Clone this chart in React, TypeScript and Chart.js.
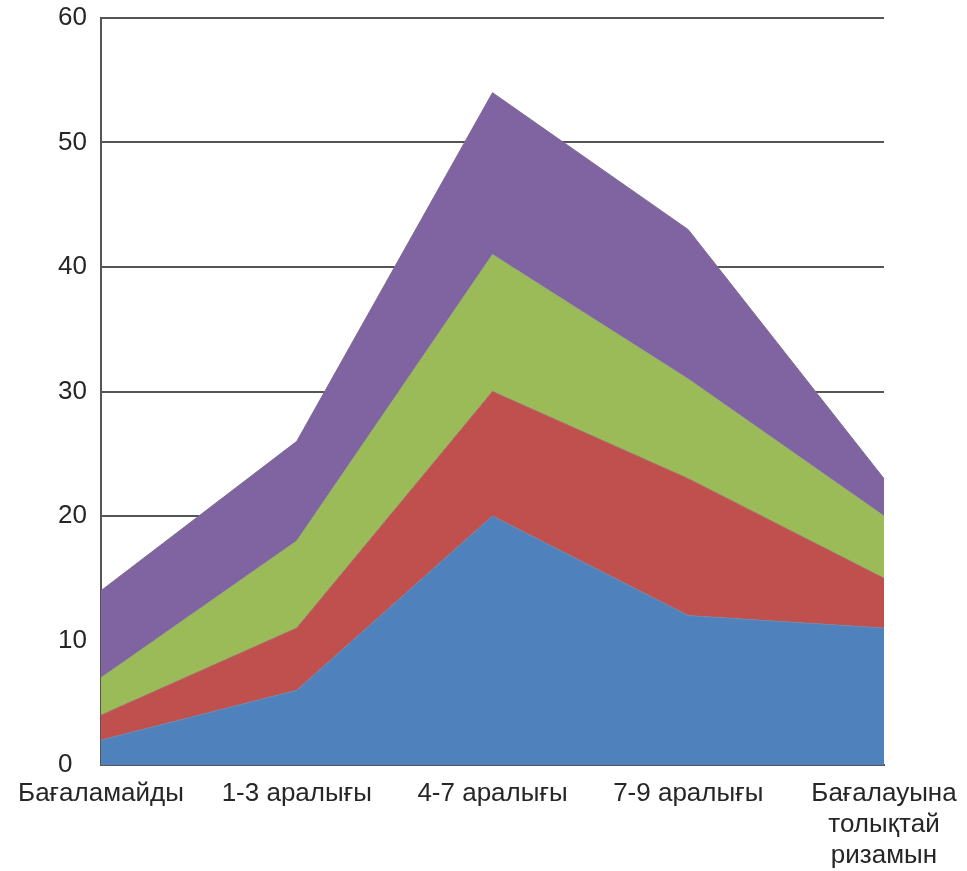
import React, { useEffect, useRef } from "react";
import { Chart, registerables } from "chart.js";

Chart.register(...registerables);

const categories: (string | string[])[] = [
  "Бағаламайды",
  "1-3 аралығы",
  "4-7 аралығы",
  "7-9 аралығы",
  ["Бағалауына", "толықтай", "ризамын"],
];
const series1 = [2, 6, 20, 12, 11];
const series2 = [2, 5, 10, 11, 4];
const series3 = [3, 7, 11, 8, 5];
const series4 = [7, 8, 13, 12, 3];
const yMin = 0;
const yMax = 60;
const yStep = 10;

const FONT = "'Liberation Sans', Arial, sans-serif";

export default function App() {
  const ref = useRef<HTMLCanvasElement | null>(null);
  useEffect(() => {
    if (!ref.current) return;
    const mk = (label: string, data: number[], color: string, edge: string, fill: any) => ({
      label,
      data,
      backgroundColor: color,
      borderColor: edge,
      borderWidth: 1,
      pointRadius: 0,
      pointHoverRadius: 0,
      tension: 0,
      fill,
    });
    const chart = new Chart(ref.current, {
      type: "line",
      data: {
        labels: categories,
        datasets: [
          mk("Series 1", series1, "#4F81BD", "#6f87a8", "origin"),
          mk("Series 2", series2, "#C0504D", "#a86a68", "-1"),
          mk("Series 3", series3, "#9BBB59", "#94a873", "-1"),
          mk("Series 4", series4, "#8064A2", "#7a6a90", "-1"),
        ],
      },
      options: {
        responsive: false,
        animation: false,
        layout: { padding: { left: 58, right: 83, top: 18, bottom: 0 } },
        plugins: { legend: { display: false }, tooltip: { enabled: false }, title: { display: false } },
        scales: {
          x: {
            offset: false,
            grid: { display: false, drawTicks: false },
            border: { display: true, color: "#555555", width: 2 },
            ticks: {
              padding: 13,
              maxRotation: 0,
              autoSkip: false,
              color: "#262626",
              font: { family: FONT, size: 26, lineHeight: 1.2 },
            },
            afterFit: (s: any) => {
              s.height = 106;
              s.paddingLeft = 0;
              s.paddingRight = 0;
            },
          },
          y: {
            stacked: true,
            min: yMin,
            max: yMax,
            grid: { color: "#555555", lineWidth: 2, drawTicks: false },
            border: { display: true, color: "#555555", width: 2 },
            ticks: {
              stepSize: yStep,
              crossAlign: "far",
              padding: 0,
              color: "#262626",
              font: { family: FONT, size: 26 },
            },
            afterFit: (s: any) => {
              s.width = 43;
            },
          },
        },
      },
    });
    return () => chart.destroy();
  }, []);
  return (
    <div style={{ position: "fixed", left: 0, top: 0, width: 967, height: 871, background: "#fff" }}>
      <canvas ref={ref} width={967} height={871} />
    </div>
  );
}
